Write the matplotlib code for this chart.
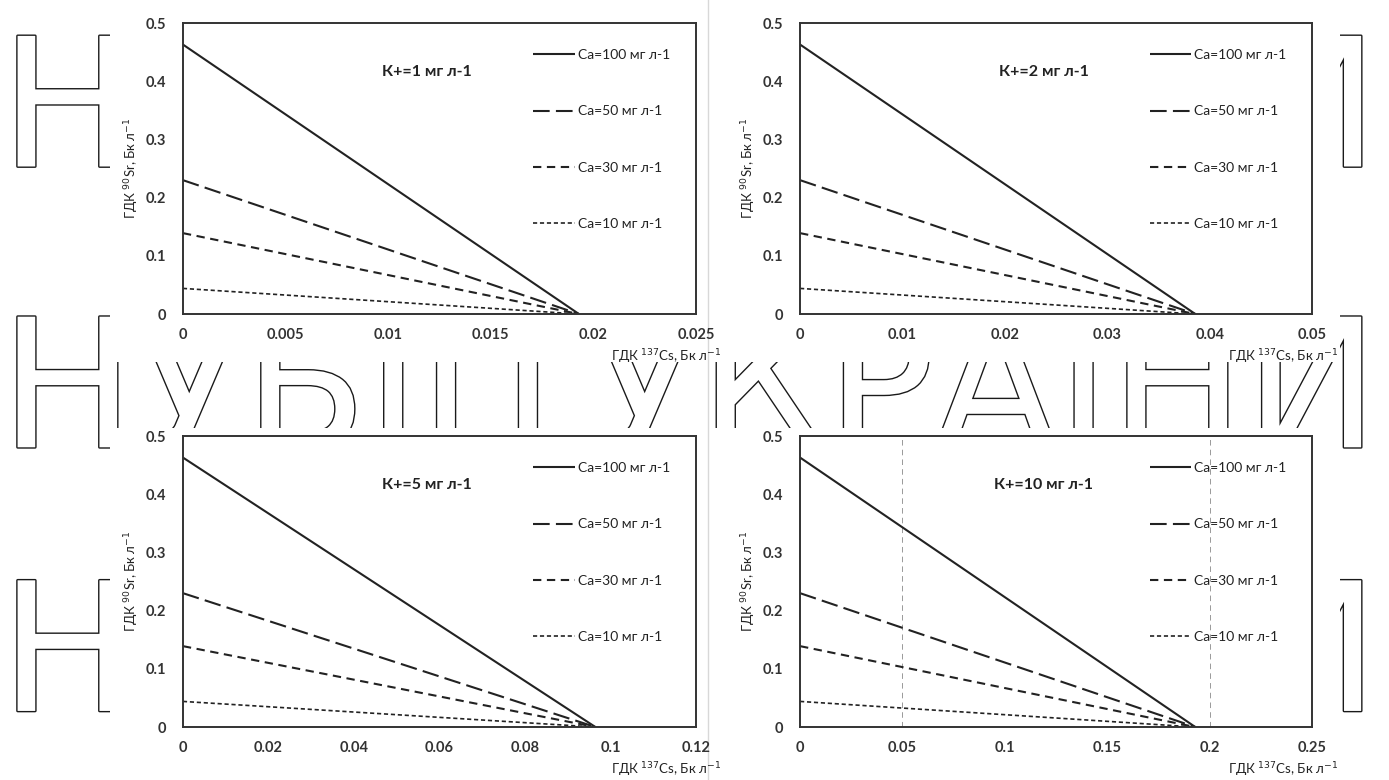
import matplotlib
matplotlib.use('Agg')
import matplotlib.pyplot as plt
from matplotlib.patches import Rectangle
import matplotlib.patheffects as pe

# Data
k_labels = ['К+=1 мг л-1', 'К+=2 мг л-1', 'К+=5 мг л-1', 'К+=10 мг л-1']
ca_labels = ['Ca=100 мг л-1', 'Ca=50 мг л-1', 'Ca=30 мг л-1', 'Ca=10 мг л-1']
sr_start = [0.463, 0.230, 0.139, 0.044]          # ГДК 90Sr at Cs = 0
cs_end = [0.0193, 0.0386, 0.0965, 0.193]          # ГДК 137Cs where Sr reaches 0
x_max = [0.025, 0.05, 0.12, 0.25]
x_ticks = [
    [0, 0.005, 0.01, 0.015, 0.02, 0.025],
    [0, 0.01, 0.02, 0.03, 0.04, 0.05],
    [0, 0.02, 0.04, 0.06, 0.08, 0.1, 0.12],
    [0, 0.05, 0.1, 0.15, 0.2, 0.25],
]
x_ticklabels = [
    ['0', '0.005', '0.01', '0.015', '0.02', '0.025'],
    ['0', '0.01', '0.02', '0.03', '0.04', '0.05'],
    ['0', '0.02', '0.04', '0.06', '0.08', '0.1', '0.12'],
    ['0', '0.05', '0.1', '0.15', '0.2', '0.25'],
]
y_ticks = [0, 0.1, 0.2, 0.3, 0.4, 0.5]
y_ticklabels = ['0', '0.1', '0.2', '0.3', '0.4', '0.5']
k10_guides = [0.05, 0.2]

watermark = 'НУБІП\u2009УКРАЇНИ'
watermark_rows = [0.85, 0.49, 0.152]

plt.rcParams['font.family'] = ['Lato', 'DejaVu Sans']
plt.rcParams['lines.scale_dashes'] = False

line_styles = [
    dict(linestyle='-', lw=1.5),
    dict(dashes=(12, 4.5), lw=1.5),
    dict(dashes=(6, 4), lw=1.5),
    dict(dashes=(3, 2), lw=1.2),
]
ink = '#222222'

fig = plt.figure(figsize=(13.89, 7.8), dpi=100)
fig.patch.set_facecolor('white')

# background watermark, partly hidden by the white chart panels
for yy in watermark_rows:
    fig.text(0.0, yy, watermark, ha='left', va='center', fontsize=129,
             family='DejaVu Sans', color='white', zorder=-3,
             path_effects=[pe.withStroke(linewidth=2.0, foreground='#1a1a1a')])

# white chart panels (as pasted images)
panels = [
    [110 / 1389, 1 - 362 / 780, 595 / 1389, 362 / 780],
    [715 / 1389, 1 - 362 / 780, 625 / 1389, 362 / 780],
    [110 / 1389, 0, 595 / 1389, 352 / 780],
    [715 / 1389, 0, 625 / 1389, 352 / 780],
]
for r in panels:
    fig.add_artist(Rectangle((r[0], r[1]), r[2], r[3], transform=fig.transFigure,
                             facecolor='white', edgecolor='none', zorder=-2))
fig.add_artist(plt.Line2D([708 / 1389, 708 / 1389], [0, 1], transform=fig.transFigure,
                          color='#d8d8d8', lw=1.0, zorder=-1))

boxes = [
    [0.1317, 0.5974, 0.3693, 0.3731],
    [0.5760, 0.5974, 0.3686, 0.3731],
    [0.1317, 0.0679, 0.3693, 0.3731],
    [0.5760, 0.0679, 0.3686, 0.3731],
]

for p, box in enumerate(boxes):
    ax = fig.add_axes(box)
    for j, lab in enumerate(ca_labels):
        ax.plot([0, cs_end[p]], [sr_start[j], 0], color=ink, label=lab,
                solid_capstyle='butt', dash_capstyle='butt', **line_styles[j])
    if p == 3:
        for g in k10_guides:
            ax.axvline(g, color='#999999', lw=0.7, dashes=(4, 3), zorder=0)

    ax.set_xlim(0, x_max[p])
    ax.set_ylim(0, 0.5)
    ax.set_xticks(x_ticks[p])
    ax.set_xticklabels(x_ticklabels[p])
    ax.set_yticks(y_ticks)
    ax.set_yticklabels(y_ticklabels)
    ax.tick_params(length=0, labelsize=10.5, colors='#333333')
    ax.tick_params(axis='x', pad=10)
    ax.tick_params(axis='y', pad=12)
    for t in ax.get_xticklabels() + ax.get_yticklabels():
        t.set_fontweight('bold')
    for s in ax.spines.values():
        s.set_color('#333333')
        s.set_linewidth(1.4)

    ax.text(0.476, 0.83, k_labels[p], transform=ax.transAxes, ha='center',
            va='center', fontsize=11.5, fontweight='bold', color=ink)

    ax.text(-0.1, 0.5, 'ГДК $^{90}$Sr, Бк л$^{-1}$', transform=ax.transAxes,
            rotation=90, ha='center', va='center', fontsize=9.5, color=ink)
    ax.text(1.05, -0.145, 'ГДК $^{137}$Cs, Бк л$^{-1}$', transform=ax.transAxes,
            ha='right', va='center', fontsize=9.5, color=ink)

    ax.legend(loc='upper left', bbox_to_anchor=(0.672, 0.93), frameon=False,
              fontsize=10, handlelength=3.0, handletextpad=0.2,
              labelspacing=3.2, borderaxespad=0, labelcolor=ink)

fig.savefig('out.png', dpi=100, facecolor='white')
